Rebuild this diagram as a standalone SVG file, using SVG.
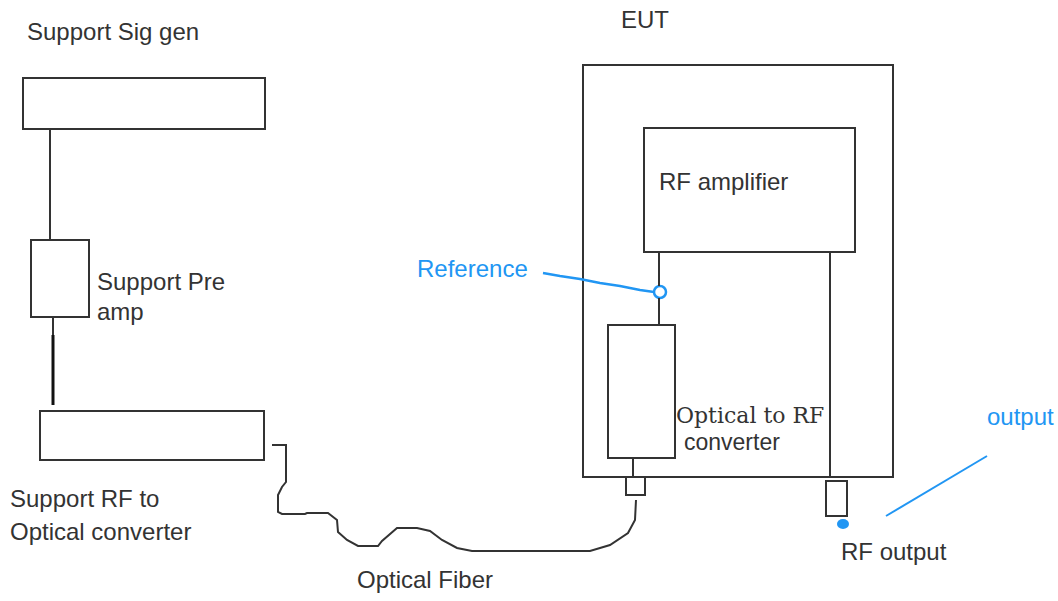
<svg xmlns="http://www.w3.org/2000/svg" width="1058" height="601" viewBox="0 0 1058 601">
<style>
.box{fill:none;stroke:#333;stroke-width:2}
.ln{fill:none;stroke:#333;stroke-width:2}
.t{font-family:"Liberation Sans",Arial,sans-serif;font-size:24px;fill:#333}
.ts{font-family:"DejaVu Serif",serif;font-size:22px;fill:#333}
.b{fill:#2196f3}
.bl{fill:none;stroke:#2196f3;stroke-width:2.5}
</style>
<rect width="1058" height="601" fill="#fff"/>
<g id="sig-gen">
<rect class="box" x="23" y="78" width="242" height="51"/>
<text class="t" x="27" y="40">Support Sig gen</text>
</g>
<g id="pre-amp">
<rect class="box" x="31" y="240" width="58" height="77"/>
<text class="t" x="97" y="290">Support Pre</text>
<text class="t" x="97" y="320">amp</text>
</g>
<g id="rf-to-optical">
<rect class="box" x="40" y="411" width="224" height="49"/>
<text class="t" x="10" y="507">Support RF to</text>
<text class="t" x="10" y="540">Optical converter</text>
</g>
<g id="eut">
<rect class="box" x="583" y="65" width="310" height="412"/>
<text class="t" x="621" y="28">EUT</text>
</g>
<g id="rf-amplifier">
<rect class="box" x="644" y="128" width="211" height="124"/>
<text class="t" x="659" y="190">RF amplifier</text>
</g>
<g id="optical-to-rf">
<rect class="box" x="608" y="325" width="67" height="133"/>
<text class="ts" x="676" y="423">Optical to RF</text>
<text class="t" x="684" y="450" style="font-size:23px">converter</text>
</g>
<g id="fiber-connector">
<rect class="box" x="626" y="477" width="19" height="18"/>
</g>
<g id="rf-output">
<rect class="box" x="826" y="481" width="21" height="35"/>
<ellipse class="b" cx="843" cy="524" rx="6" ry="5"/>
<text class="t" x="841" y="560">RF output</text>
</g>
<g id="reference">
<circle cx="660" cy="292" r="6" fill="none" stroke="#2196f3" stroke-width="2.5"/>
<text class="t" x="417" y="277" style="fill:#2196f3">Reference</text>
</g>
<g id="output-label">
<text class="t" x="987" y="425" style="fill:#2196f3">output</text>
</g>
<g id="fiber-label">
<text class="t" x="357" y="588">Optical Fiber</text>
</g>
<g id="connectors">
<line class="ln" x1="50" y1="129" x2="50" y2="240"/>
<line class="ln" x1="53" y1="317" x2="53" y2="335"/>
<line class="ln" x1="53" y1="335" x2="53" y2="405" style="stroke:#111;stroke-width:3"/>
<polyline class="ln" points="272,445 286,445 286,482 282,487 278,495 278,512 282,514 305,514 307,513 328,513 337,520 338,532 347,540 358,546 378,546 382,541 397,528 417,528 430,531 442,540 457,548 472,551 590,551 610,545 628,533 635,520 636,500"/>
<line class="ln" x1="633" y1="458" x2="633" y2="477"/>
<line class="ln" x1="659" y1="252" x2="659" y2="286"/>
<line class="ln" x1="659" y1="298" x2="659" y2="325"/>
<line class="ln" x1="830" y1="252" x2="830" y2="477"/>
<polyline class="bl" points="543,273 560,276 580,279 600,283 620,286 640,290 654,292"/>
<line class="bl" x1="886" y1="516" x2="987" y2="456" style="stroke-width:2"/>
</g>
</svg>
